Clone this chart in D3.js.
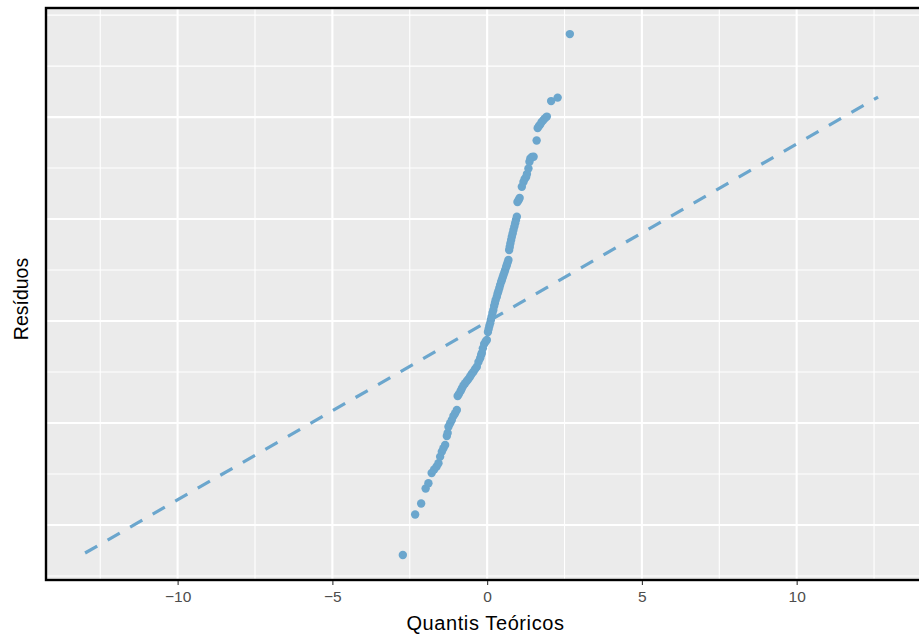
<!DOCTYPE html>
<html>
<head>
<meta charset="utf-8">
<script src="https://cdn.jsdelivr.net/npm/d3@7"></script>
<style>
  html, body { margin: 0; padding: 0; background: #fff; }
  svg { display: block; }
</style>
</head>
<body>
<svg id="chart" width="919" height="639"></svg>
<script>
// Theoretical quantiles (x) and residuals (y)
const theoretical = [
  -2.724, -2.326, -2.132, -1.987, -1.897, -1.793, -1.712, -1.632, -1.573, -1.519,
  -1.464, -1.412, -1.357, -1.302, -1.276, -1.250, -1.195, -1.141, -1.089, -1.034,
  -0.979, -0.953, -0.911, -0.856, -0.817, -0.766, -0.711, -0.656, -0.604, -0.549,
  -0.501, -0.443, -0.388, -0.333, -0.281, -0.226, -0.194, -0.171, -0.139, -0.097,
  -0.048, -0.010, 0.026, 0.048, 0.071, 0.097, 0.120, 0.145, 0.171, 0.200,
  0.226, 0.252, 0.275, 0.313, 0.339, 0.365, 0.394, 0.420, 0.452, 0.475,
  0.501, 0.527, 0.556, 0.582, 0.614, 0.637, 0.662, 0.688, 0.711, 0.730,
  0.750, 0.775, 0.798, 0.824, 0.850, 0.879, 0.905, 0.931, 0.960, 0.979,
  1.018, 1.050, 1.121, 1.173, 1.212, 1.260, 1.286, 1.334, 1.367, 1.396,
  1.444, 1.502, 1.599, 1.632, 1.674, 1.712, 1.761, 1.819, 1.874, 1.929,
  2.068, 2.278, 2.672
];
const residuals = [
  -2.294, -1.897, -1.789, -1.642, -1.591, -1.490, -1.456, -1.426, -1.395, -1.330,
  -1.281, -1.248, -1.216, -1.127, -1.098, -1.036, -1.003, -0.971, -0.931, -0.905,
  -0.873, -0.735, -0.716, -0.686, -0.662, -0.632, -0.611, -0.588, -0.569, -0.544,
  -0.520, -0.497, -0.471, -0.448, -0.402, -0.366, -0.333, -0.314, -0.268, -0.225,
  -0.201, -0.186, -0.108, -0.078, -0.049, -0.023, 0.010, 0.042, 0.078, 0.108,
  0.147, 0.176, 0.206, 0.238, 0.270, 0.294, 0.324, 0.353, 0.382, 0.402,
  0.426, 0.451, 0.475, 0.500, 0.529, 0.549, 0.574, 0.598, 0.696, 0.725,
  0.760, 0.794, 0.826, 0.858, 0.892, 0.926, 0.958, 0.990, 1.023, 1.167,
  1.186, 1.206, 1.317, 1.363, 1.392, 1.412, 1.441, 1.495, 1.562, 1.593,
  1.608, 1.611, 1.770, 1.892, 1.912, 1.926, 1.951, 1.971, 1.990, 2.005,
  2.157, 2.191, 2.814
];
// Dashed reference line endpoints
const refLineX = [-12.99, 12.63];
const refLineY = [-2.275, 2.196];

// Axis breaks
const xTicks = [-10, -5, 0, 5, 10];
const xMinor = [-12.5, -7.5, -2.5, 2.5, 7.5, 12.5];
const yMajor = [-2, -1, 0, 1, 2];
const yMinor = [-2.5, -1.5, -0.5, 0.5, 1.5, 2.5, 3];

const xDomain = [-14.22, 13.92];
const yDomain = [-2.53, 3.06];

const svg = d3.select("#chart");
const panel = { left: 47, right: 918, top: 9, bottom: 579 };

const x = d3.scaleLinear().domain(xDomain).range([panel.left, panel.right]);
const y = d3.scaleLinear().domain(yDomain).range([panel.bottom, panel.top]);

const blue = "#6ba6cd";
const font = "'Liberation Sans', Arial, Helvetica, sans-serif";

// Panel background
svg.append("rect")
  .attr("x", panel.left).attr("y", panel.top)
  .attr("width", 919 - panel.left + 5).attr("height", panel.bottom - panel.top)
  .attr("fill", "#ebebeb");

const grid = svg.append("g");
// minor grid
grid.selectAll(".xminor").data(xMinor).join("line")
  .attr("x1", d => x(d)).attr("x2", d => x(d))
  .attr("y1", panel.top).attr("y2", panel.bottom)
  .attr("stroke", "#fff").attr("stroke-width", 1.1);
grid.selectAll(".yminor").data(yMinor).join("line")
  .attr("y1", d => y(d)).attr("y2", d => y(d))
  .attr("x1", panel.left).attr("x2", 920)
  .attr("stroke", "#fff").attr("stroke-width", 1.1);
// major grid
grid.selectAll(".xmajor").data(xTicks).join("line")
  .attr("x1", d => x(d)).attr("x2", d => x(d))
  .attr("y1", panel.top).attr("y2", panel.bottom)
  .attr("stroke", "#fff").attr("stroke-width", 2.1);
grid.selectAll(".ymajor").data(yMajor).join("line")
  .attr("y1", d => y(d)).attr("y2", d => y(d))
  .attr("x1", panel.left).attr("x2", 920)
  .attr("stroke", "#fff").attr("stroke-width", 2.1);

// reference dashed line
const line = d3.line().x(d => x(d[0])).y(d => y(d[1]));
svg.append("path")
  .datum(refLineX.map((v, i) => [v, refLineY[i]]))
  .attr("d", line)
  .attr("fill", "none")
  .attr("stroke", blue)
  .attr("stroke-width", 3.2)
  .attr("stroke-dasharray", "14,12");

// points
svg.append("g").selectAll("circle")
  .data(theoretical.map((v, i) => [v, residuals[i]]))
  .join("circle")
  .attr("cx", d => x(d[0]))
  .attr("cy", d => y(d[1]))
  .attr("r", 4.2)
  .attr("fill", blue);

// panel border (left, top, bottom; right is off-canvas)
svg.append("rect")
  .attr("x", 46).attr("y", 8)
  .attr("width", 930).attr("height", 572)
  .attr("fill", "none")
  .attr("stroke", "#000")
  .attr("stroke-width", 2.4);

// x axis
const xAxis = d3.axisBottom(x)
  .tickValues(xTicks)
  .tickSize(4)
  .tickPadding(6)
  .tickFormat(d => d3.format("d")(d).replace("-", "\u2212"));
const gx = svg.append("g").attr("transform", `translate(0,${581})`).call(xAxis);
gx.select(".domain").remove();
gx.selectAll(".tick line").attr("stroke", "#333").attr("stroke-width", 1.1);
gx.selectAll(".tick text")
  .attr("fill", "#4d4d4d")
  .style("font-family", font)
  .style("font-size", "15.5px");

// axis titles
svg.append("text")
  .attr("x", (panel.left + panel.right) / 2 + 3)
  .attr("y", 630)
  .attr("text-anchor", "middle")
  .style("font-family", font)
  .style("font-size", "20px")
  .style("letter-spacing", "0.6px")
  .attr("fill", "#000")
  .text("Quantis Teóricos");

svg.append("text")
  .attr("transform", `translate(28,${(panel.top + panel.bottom) / 2 + 5}) rotate(-90)`)
  .attr("text-anchor", "middle")
  .style("font-family", font)
  .style("font-size", "19.5px")
  .attr("fill", "#000")
  .text("Resíduos");
</script>
</body>
</html>
